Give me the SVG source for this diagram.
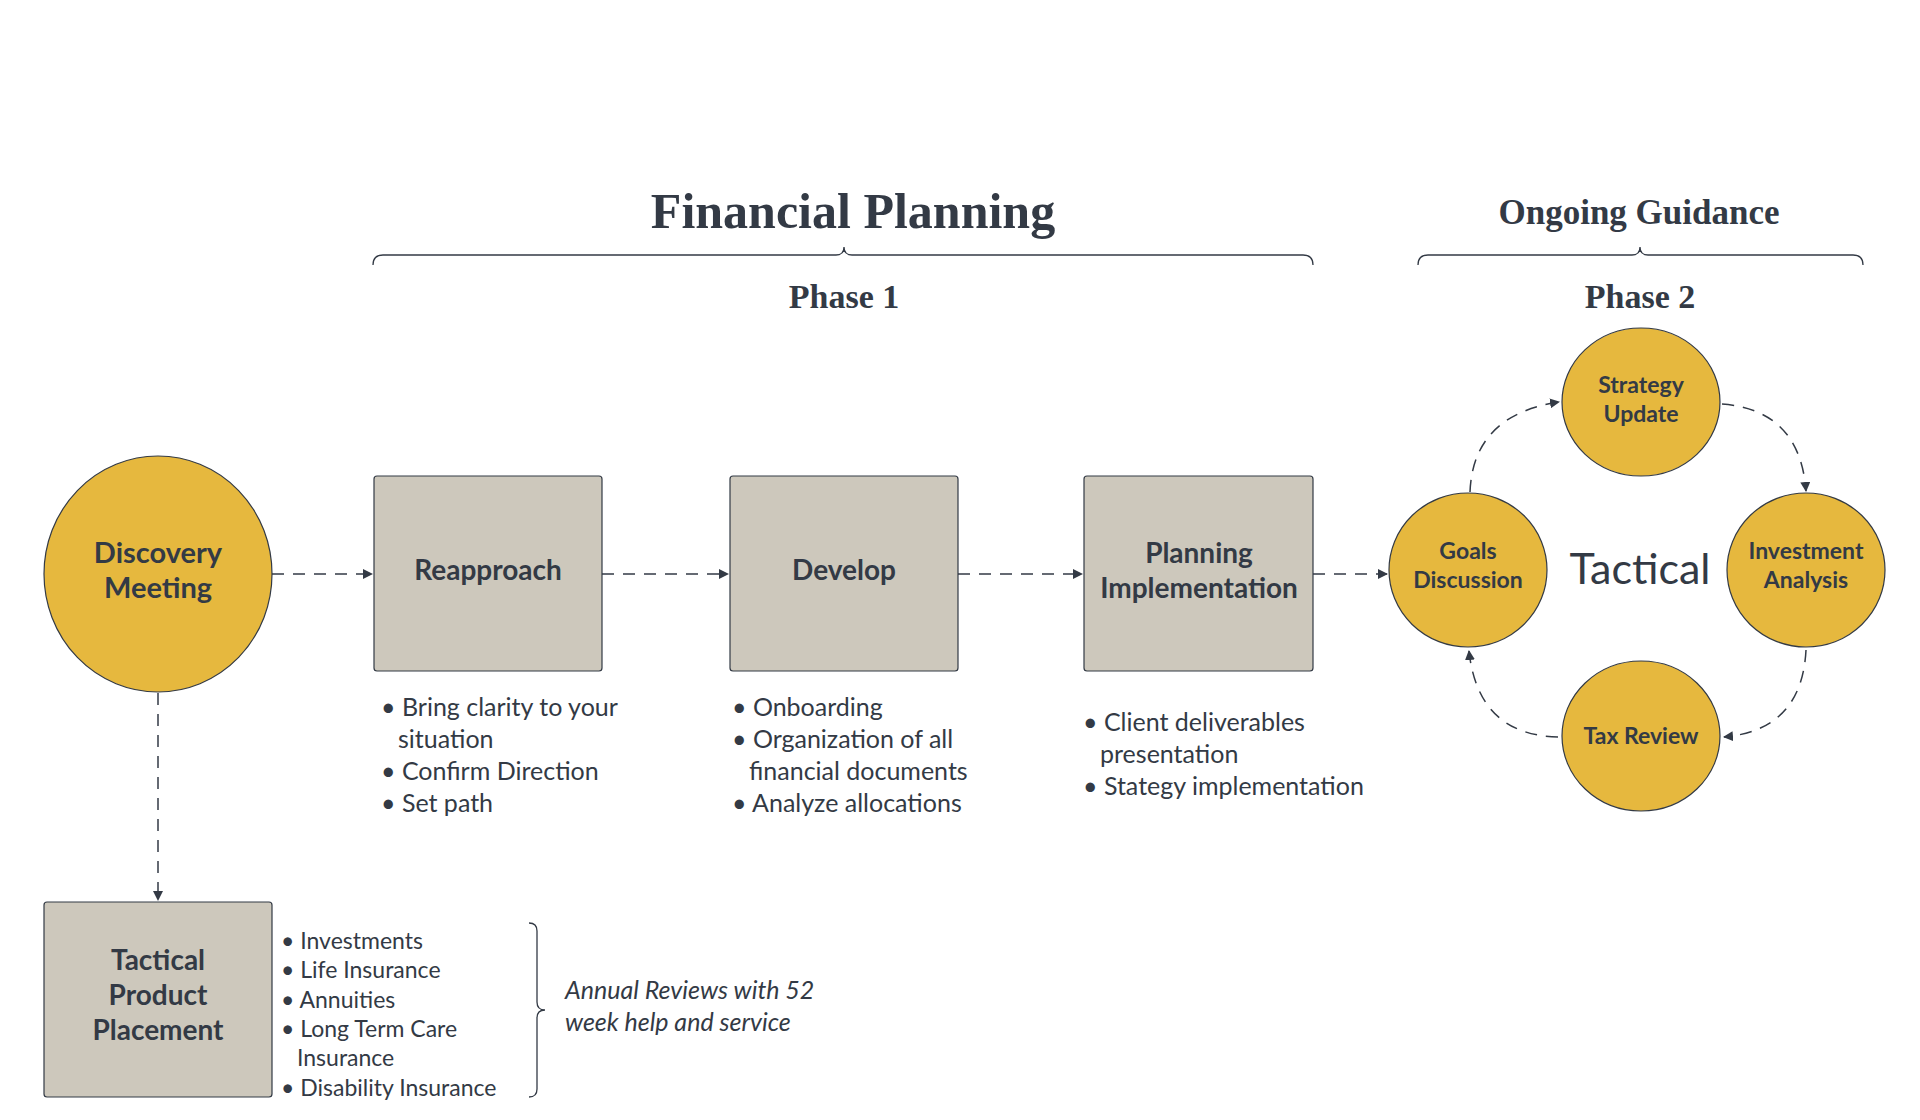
<svg xmlns="http://www.w3.org/2000/svg" width="1920" height="1120" viewBox="0 0 1920 1120">
<defs>
<marker id="ah" markerWidth="10" markerHeight="10" refX="9" refY="5" orient="auto" markerUnits="userSpaceOnUse"><path d="M0,0 L10,5 L0,10 z" fill="#333a45"/></marker>
<style>
.gold{fill:#e6b83e;stroke:#333a45;stroke-width:1.2}
.box{fill:#cdc8bc;stroke:#333a45;stroke-width:1.2}
.lbl{font-family:Lato,"Liberation Sans",sans-serif;font-weight:bold;fill:#333a45;text-anchor:middle}
.txt{font-family:Lato,"Liberation Sans",sans-serif;fill:#333a45}
.ser{font-family:"Liberation Serif",serif;font-weight:bold;fill:#333a45;text-anchor:middle}
.con{fill:none;stroke:#333a45;stroke-width:1.5;stroke-dasharray:12 9;marker-end:url(#ah)}
.brace{fill:none;stroke:#333a45;stroke-width:1.3}
</style>
</defs>
<rect width="1920" height="1120" fill="#fff"/>
<g id="headers">
<text class="ser" x="853" y="228" font-size="50">Financial Planning</text>
<path class="brace" d="M373,265 Q373,255 383,255 L836,255 Q844,255 844,247 Q844,255 852,255 L1303,255 Q1313,255 1313,265"/>
<text class="ser" x="844" y="308" font-size="34">Phase 1</text>
<text class="ser" x="1639" y="224" font-size="35">Ongoing Guidance</text>
<path class="brace" d="M1418,265 Q1418,255 1428,255 L1632,255 Q1640,255 1640,247 Q1640,255 1648,255 L1853,255 Q1863,255 1863,265"/>
<text class="ser" x="1640" y="308" font-size="34">Phase 2</text>
</g>
<g id="connectors">
<line class="con" x1="272" y1="574" x2="372" y2="574"/>
<line class="con" x1="602" y1="574" x2="728" y2="574"/>
<line class="con" x1="958" y1="574" x2="1082" y2="574"/>
<line class="con" x1="1313" y1="574" x2="1387" y2="574"/>
<line class="con" x1="158" y1="693" x2="158" y2="900"/>
<path class="con" d="M1470,492 Q1473,415 1559,402"/>
<path class="con" d="M1722,404 Q1800,410 1806,491"/>
<path class="con" d="M1806,650 Q1802,730 1724,737"/>
<path class="con" d="M1558,737 Q1478,735 1469,651"/>
</g>
<g id="discovery"><ellipse class="gold" cx="158" cy="574" rx="114" ry="118"/>
<text class="lbl" x="158" y="563" font-size="29">Discovery</text><text class="lbl" x="158" y="598" font-size="29">Meeting</text></g>
<g id="reapproach"><rect class="box" x="374" y="476" width="228" height="195" rx="3"/>
<text class="lbl" x="488" y="580" font-size="28">Reapproach</text></g>
<g id="develop"><rect class="box" x="730" y="476" width="228" height="195" rx="3"/>
<text class="lbl" x="844" y="580" font-size="28">Develop</text></g>
<g id="planning"><rect class="box" x="1084" y="476" width="229" height="195" rx="3"/>
<text class="lbl" x="1199" y="563" font-size="28">Planning</text><text class="lbl" x="1199" y="598" font-size="28">Implementation</text></g>
<g id="goals"><ellipse class="gold" cx="1468" cy="570" rx="79" ry="77"/>
<text class="lbl" x="1468" y="559" font-size="23">Goals</text><text class="lbl" x="1468" y="588" font-size="23">Discussion</text></g>
<g id="strategy"><ellipse class="gold" cx="1641" cy="402" rx="79" ry="74"/>
<text class="lbl" x="1641" y="393" font-size="23">Strategy</text><text class="lbl" x="1641" y="422" font-size="23">Update</text></g>
<g id="investment"><ellipse class="gold" cx="1806" cy="570" rx="79" ry="77"/>
<text class="lbl" x="1806" y="559" font-size="23">Investment</text><text class="lbl" x="1806" y="588" font-size="23">Analysis</text></g>
<g id="tax"><ellipse class="gold" cx="1641" cy="736" rx="79" ry="75"/>
<text class="lbl" x="1641" y="744" font-size="23">Tax Review</text></g>
<g id="tactical"><text class="txt" x="1640" y="584" font-size="43" text-anchor="middle">Tactical</text></g>
<g id="product"><rect class="box" x="44" y="902" width="228" height="195" rx="3"/>
<text class="lbl" x="158" y="970" font-size="28">Tactical</text><text class="lbl" x="158" y="1005" font-size="28">Product</text><text class="lbl" x="158" y="1040" font-size="28">Placement</text></g>
<g id="lists" class="txt" font-size="25">
<text x="381" y="716">• Bring clarity to your</text><text x="398" y="748">situation</text><text x="381" y="780">• Confirm Direction</text><text x="381" y="812">• Set path</text>
<text x="732" y="716">• Onboarding</text><text x="732" y="748">• Organization of all</text><text x="749" y="780">financial documents</text><text x="732" y="812">• Analyze allocations</text>
<text x="1083" y="731">• Client deliverables</text><text x="1100" y="763">presentation</text><text x="1083" y="795">• Stategy implementation</text>
</g>
<g id="productlist" class="txt" font-size="23">
<text x="281" y="949">• Investments</text><text x="281" y="978">• Life Insurance</text><text x="281" y="1008">• Annuities</text><text x="281" y="1037">• Long Term Care</text><text x="297" y="1066">Insurance</text><text x="281" y="1096">• Disability Insurance</text>
</g>
<g id="annual">
<path class="brace" d="M529,923 Q537,923 537,931 L537,1002 Q537,1010 545,1010 Q537,1010 537,1018 L537,1089 Q537,1097 529,1097"/>
<text class="txt" x="565" y="999" font-size="25" font-style="italic">Annual Reviews with 52</text>
<text class="txt" x="565" y="1031" font-size="25" font-style="italic">week help and service</text>
</g>
</svg>
